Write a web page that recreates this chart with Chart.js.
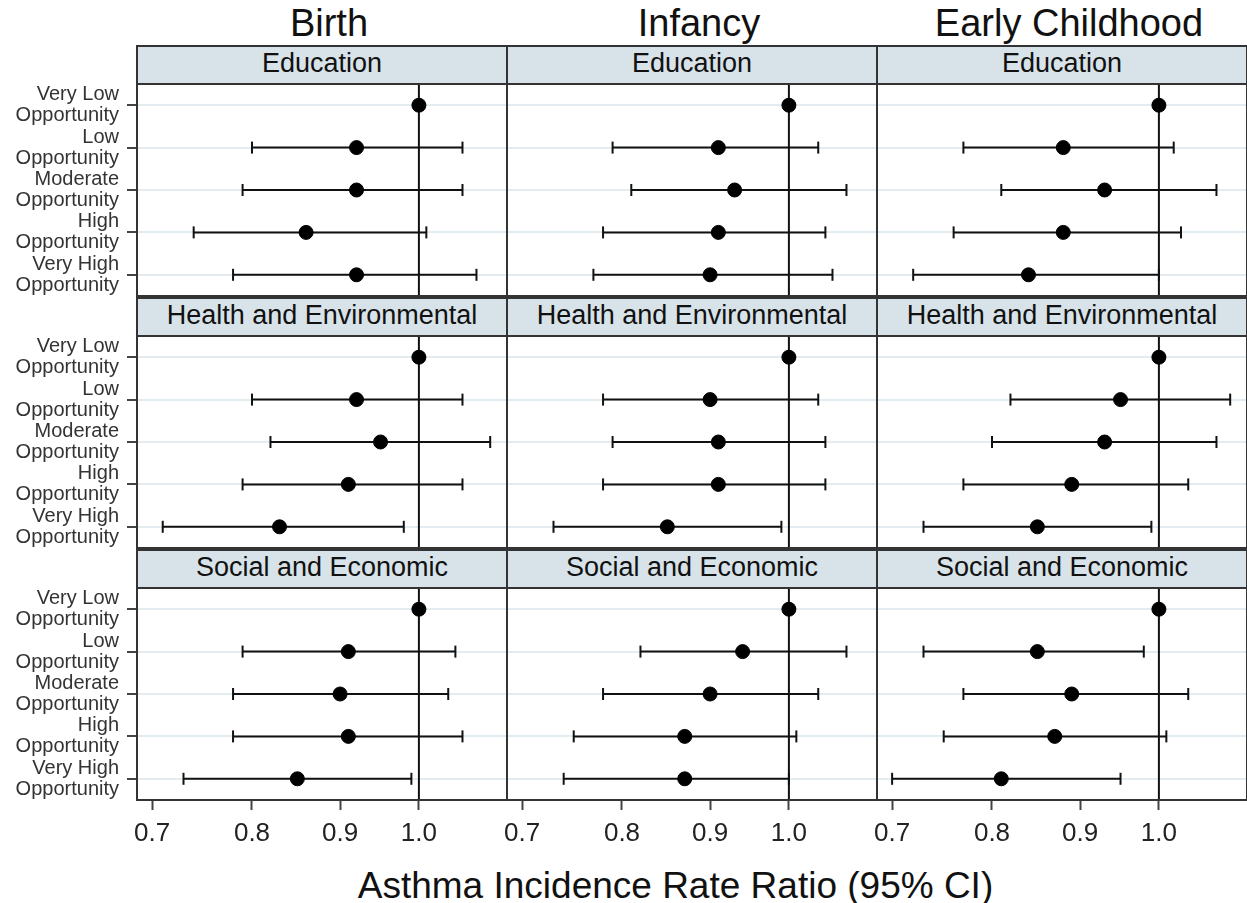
<!DOCTYPE html>
<html>
<head>
<meta charset="utf-8">
<script src="https://cdn.jsdelivr.net/npm/chart.js@4.4.0/dist/chart.umd.min.js"></script>
<style>
  html, body { margin: 0; padding: 0; background: #fff; overflow: hidden; }
  #page { position: relative; width: 1247px; height: 903px; background: #fff;
          font-family: Arial, "Liberation Sans", Helvetica, sans-serif; color: #111; }
  .coltitle { position: absolute; top: 1px; width: 370px; text-align: center; font-size: 38px; line-height: 44px; }
  .strip { position: absolute; box-sizing: border-box; width: 372px; height: 40px; border: 2px solid #333;
           background: #d7e3e9; text-align: center; font-size: 27px; line-height: 33px; white-space: nowrap; }
  #xtitle { position: absolute; left: 52px; width: 1247px; top: 864px; text-align: center; font-size: 37px; line-height: 44px; white-space: nowrap; }
  canvas { position: absolute; }
</style>
</head>
<body>
<div id="page"></div>
<script>
const periods = ['Birth', 'Infancy', 'Early Childhood'];
const domains = ['Education', 'Health and Environmental', 'Social and Economic'];
const levels = ['Very Low Opportunity', 'Low Opportunity', 'Moderate Opportunity', 'High Opportunity', 'Very High Opportunity'];
const xTicks = [0.7, 0.8, 0.9, 1.0];
const refValue = 1.0;
const axisTitle = 'Asthma Incidence Rate Ratio (95% CI)';

// rate ratios and 95% CI, one row per domain (education, health/env, social/econ)
// very low opportunity is the reference group, so no interval
const birthIRR = [[1.00, 0.92, 0.92, 0.86, 0.92], [1.00, 0.92, 0.95, 0.91, 0.83], [1.00, 0.91, 0.90, 0.91, 0.85]];
const birthLo  = [[null, 0.80, 0.79, 0.74, 0.78], [null, 0.80, 0.82, 0.79, 0.71], [null, 0.79, 0.78, 0.78, 0.73]];
const birthHi  = [[null, 1.06, 1.06, 1.01, 1.08], [null, 1.06, 1.10, 1.06, 0.98], [null, 1.05, 1.04, 1.06, 0.99]];

const infancyIRR = [[1.00, 0.91, 0.93, 0.91, 0.90], [1.00, 0.90, 0.91, 0.91, 0.85], [1.00, 0.94, 0.90, 0.87, 0.87]];
const infancyLo  = [[null, 0.79, 0.81, 0.78, 0.77], [null, 0.78, 0.79, 0.78, 0.73], [null, 0.82, 0.78, 0.75, 0.74]];
const infancyHi  = [[null, 1.04, 1.08, 1.05, 1.06], [null, 1.04, 1.05, 1.05, 0.99], [null, 1.08, 1.04, 1.01, 1.00]];

const earlyIRR = [[1.00, 0.88, 0.93, 0.88, 0.84], [1.00, 0.95, 0.93, 0.89, 0.85], [1.00, 0.85, 0.89, 0.87, 0.81]];
const earlyLo  = [[null, 0.77, 0.81, 0.76, 0.72], [null, 0.82, 0.80, 0.77, 0.73], [null, 0.73, 0.77, 0.75, 0.70]];
const earlyHi  = [[null, 1.02, 1.08, 1.03, 1.00], [null, 1.10, 1.08, 1.04, 0.99], [null, 0.98, 1.04, 1.01, 0.95]];

const estimates = [birthIRR, infancyIRR, earlyIRR];
const lowers = [birthLo, infancyLo, earlyLo];
const uppers = [birthHi, infancyHi, earlyHi];

// panel geometry
const panelLeft = [137, 507, 877];
const panelTop = [84, 336, 588];
const panelW = 370, panelH = 212;

Chart.defaults.font.family = 'Arial, "Liberation Sans", Helvetica, sans-serif';

var page = document.getElementById('page');

// reference line at 1.0 and the box round each panel
const panelFrame = {
  id: 'panelFrame',
  beforeDatasetsDraw(chart) {
    var a = chart.chartArea, ctx = chart.ctx;
    var x = chart.scales.x.getPixelForValue(refValue);
    ctx.save();
    ctx.strokeStyle = '#111';
    ctx.lineWidth = 2;
    ctx.beginPath();
    ctx.moveTo(x, a.top);
    ctx.lineTo(x, a.bottom);
    ctx.stroke();
    ctx.restore();
  },
  afterDraw(chart) {
    var a = chart.chartArea, ctx = chart.ctx;
    ctx.save();
    ctx.strokeStyle = '#333';
    ctx.lineWidth = 2;
    ctx.strokeRect(a.left, a.top, a.right - a.left, a.bottom - a.top);
    ctx.restore();
  }
};

function zeroPadding(s) {
  s.paddingLeft = 0; s.paddingRight = 0; s.paddingTop = 0; s.paddingBottom = 0;
}

function makePanel(r, c) {
  var L = panelLeft[c], T = panelTop[r];
  var first = c === 0, last = r === 2;
  var left = first ? 0 : L - 4;
  var top = T - 4;
  var w = L + panelW + 4 - left;
  var h = last ? 4 + panelH + 50 : panelH + 8;

  var cv = document.createElement('canvas');
  cv.width = w; cv.height = h;
  cv.style.left = left + 'px'; cv.style.top = top + 'px';
  cv.style.width = w + 'px'; cv.style.height = h + 'px';
  page.appendChild(cv);

  var est = estimates[c][r], lo = lowers[c][r], hi = uppers[c][r];
  var sets = [{
    data: levels.map(function(lv, i) { return { x: est[i], y: lv }; }),
    showLine: false,
    pointRadius: 7,
    pointBackgroundColor: '#000',
    pointBorderColor: '#000',
    pointBorderWidth: 1
  }];
  levels.forEach(function(lv, i) {
    if (lo[i] == null) return;
    sets.push({
      data: [{ x: lo[i], y: lv }, { x: hi[i], y: lv }],
      showLine: true,
      borderColor: '#111',
      borderWidth: 2,
      pointStyle: 'line',
      pointRotation: 90,
      pointRadius: 6,
      pointBorderWidth: 2,
      pointBorderColor: '#111'
    });
  });

  new Chart(cv.getContext('2d'), {
    type: 'scatter',
    data: { datasets: sets },
    options: {
      responsive: false,
      animation: false,
      events: [],
      layout: { autoPadding: false, padding: { left: first ? 0 : 4, right: 4, top: 4, bottom: last ? 0 : 4 } },
      plugins: { legend: { display: false }, tooltip: { enabled: false } },
      scales: {
        x: {
          type: 'logarithmic',
          min: 0.686, max: 1.125,
          bounds: 'data',
          display: last,
          afterBuildTicks: function(s) { s.ticks = xTicks.map(function(v) { return { value: v }; }); },
          afterFit: function(s) { s.height = last ? 50 : 0; zeroPadding(s); },
          border: { display: false },
          grid: { drawOnChartArea: false, tickLength: 10, tickColor: '#444', tickWidth: 2 },
          ticks: {
            autoSkip: false, maxRotation: 0, padding: 8, color: '#222', font: { size: 26 },
            callback: function(v) { return Number(v).toFixed(1); }
          }
        },
        y: {
          type: 'category',
          labels: levels,
          offset: true,
          afterFit: function(s) { s.width = first ? 137 : 0; zeroPadding(s); },
          border: { display: false },
          grid: { offset: false, color: '#e3edf1', lineWidth: 2, drawTicks: first, tickLength: 10, tickColor: '#444', tickWidth: 2 },
          ticks: {
            display: first, autoSkip: false, padding: 8, color: '#333', font: { size: 20, lineHeight: 1.05 },
            callback: function(v, i) { return [levels[i].replace(' Opportunity', ''), 'Opportunity']; }
          }
        }
      }
    },
    plugins: [panelFrame]
  });
}

periods.forEach(function(p, c) {
  var d = document.createElement('div');
  d.className = 'coltitle';
  d.style.left = (panelLeft[c] + 7) + 'px';
  d.textContent = p;
  page.appendChild(d);
});

domains.forEach(function(dom, r) {
  periods.forEach(function(p, c) {
    var s = document.createElement('div');
    s.className = 'strip';
    s.style.left = (panelLeft[c] - 1) + 'px';
    s.style.top = (panelTop[r] - 39) + 'px';
    s.textContent = dom;
    page.appendChild(s);
    makePanel(r, c);
  });
});

var xt = document.createElement('div');
xt.id = 'xtitle';
xt.textContent = axisTitle;
page.appendChild(xt);
</script>
</body>
</html>
